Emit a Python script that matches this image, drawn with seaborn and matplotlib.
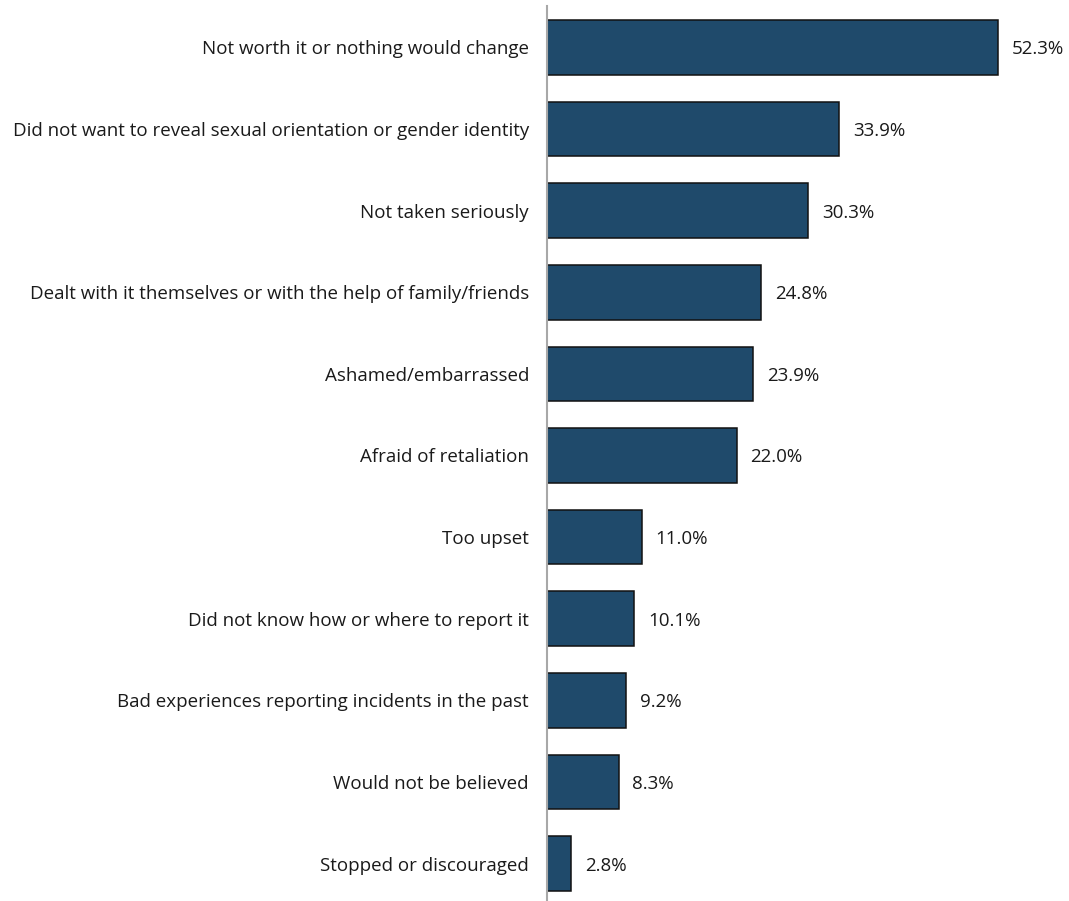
import matplotlib
matplotlib.use("Agg")
import matplotlib.pyplot as plt
import seaborn as sns
import pandas as pd

reasons = [
    "Not worth it or nothing would change",
    "Did not want to reveal sexual orientation or gender identity",
    "Not taken seriously",
    "Dealt with it themselves or with the help of family/friends",
    "Ashamed/embarrassed",
    "Afraid of retaliation",
    "Too upset",
    "Did not know how or where to report it",
    "Bad experiences reporting incidents in the past",
    "Would not be believed",
    "Stopped or discouraged",
]
shares = [52.3, 33.9, 30.3, 24.8, 23.9, 22.0, 11.0, 10.1, 9.2, 8.3, 2.8]

df = pd.DataFrame({"reason": reasons, "share": shares})

sns.set_theme(style="white")
plt.rcParams["font.family"] = ["Open Sans", "DejaVu Sans"]

W, H = 1069, 901
fig = plt.figure(figsize=(W / 100, H / 100), dpi=100)
ax = fig.add_axes([547 / W, 0, (W - 547) / W, 1 - 6 / H])

sns.barplot(data=df, x="share", y="reason", orient="h", color="#1f4a6b",
            saturation=1, width=0.67, edgecolor="#111111", linewidth=1.1, ax=ax)

ax.set_xlim(0, (W - 547) / 8.62)
ax.set_ylim(10.459, -0.508)
ax.set_xlabel("")
ax.set_ylabel("")
ax.set_xticks([])
for s in ("top", "right", "bottom"):
    ax.spines[s].set_visible(False)
ax.spines["left"].set_color("#a8a8a8")
ax.spines["left"].set_linewidth(1.5)
ax.tick_params(axis="y", length=0, pad=13, labelsize=13.5, labelcolor="#1a1a1a")

for container in ax.containers:
    texts = ax.bar_label(container, labels=[f"{v:.1f}%" for v in shares],
                         padding=10, fontsize=13.5, color="#1a1a1a")
    for t in texts:
        t.set_va("center_baseline")

fig.savefig("out.png", dpi=100, facecolor="white")
